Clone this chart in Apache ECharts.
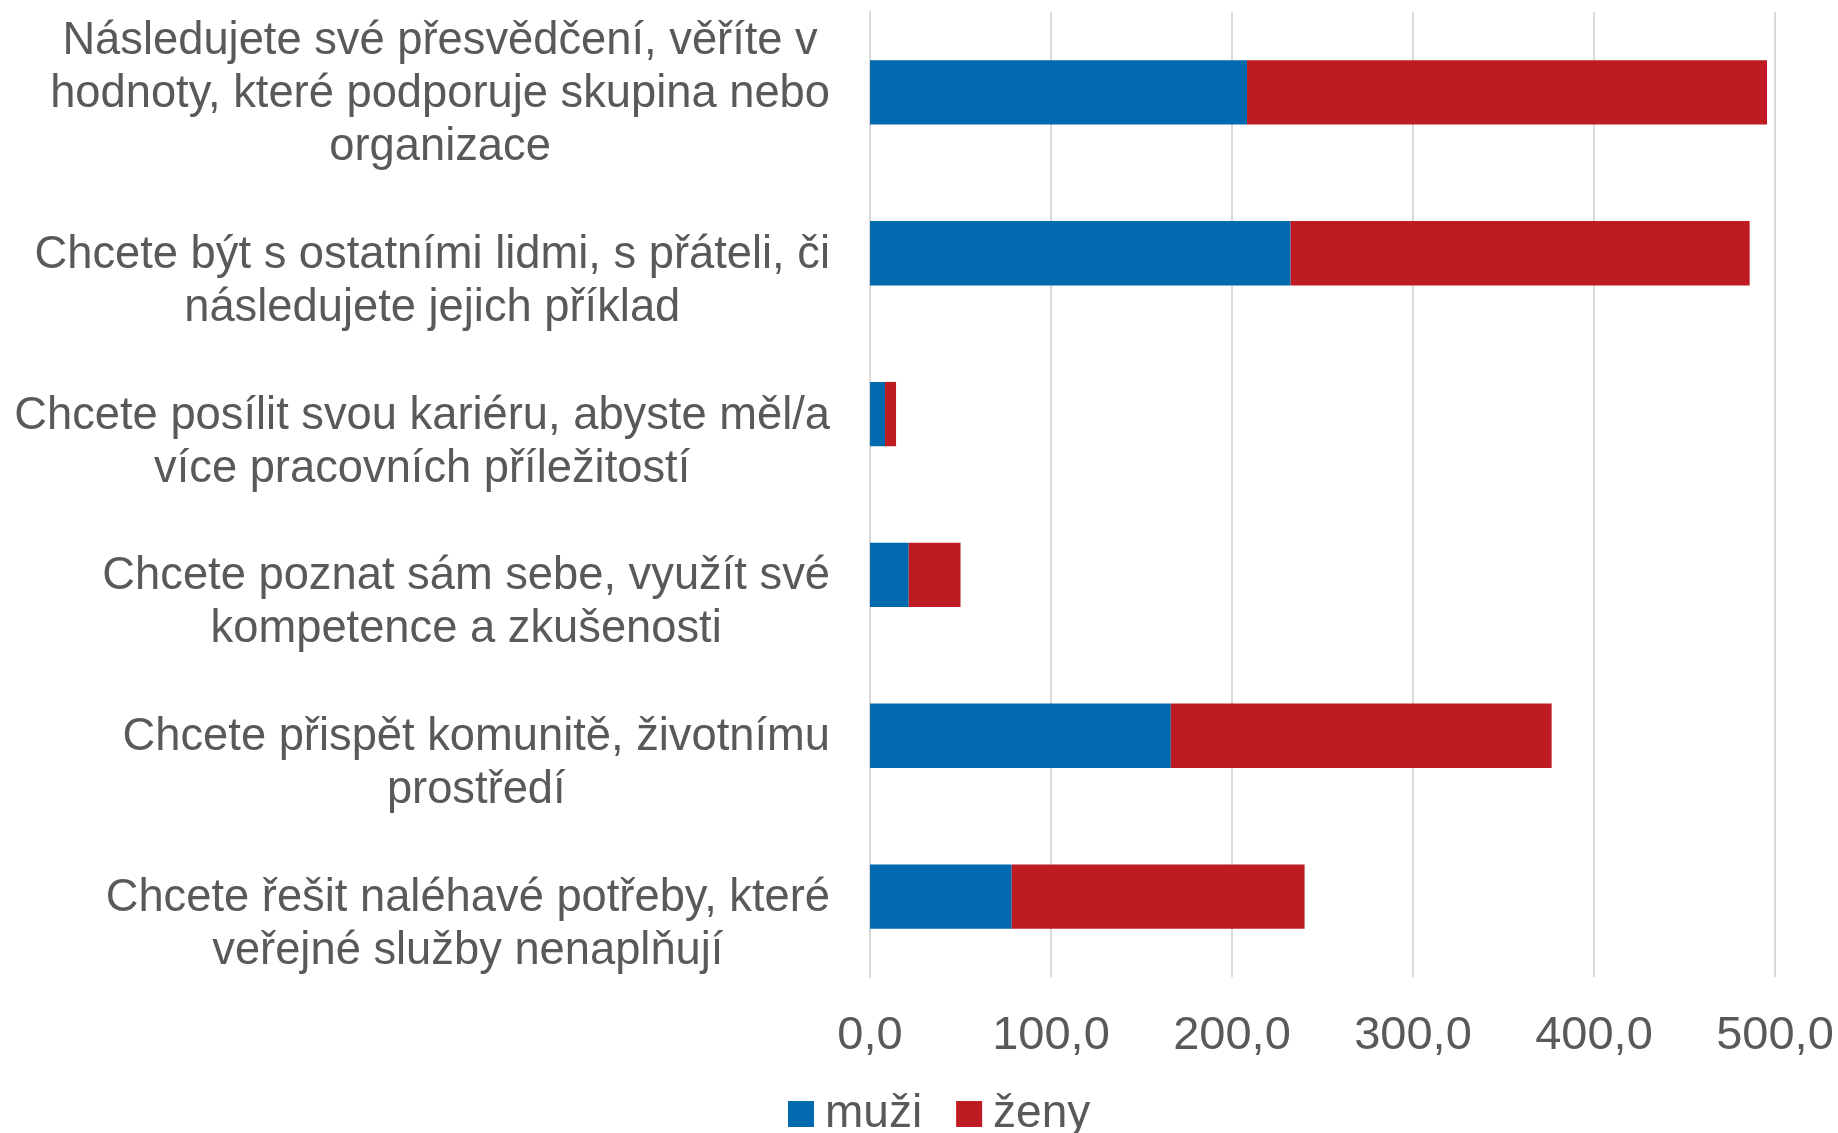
<!DOCTYPE html>
<html><head><meta charset="utf-8">
<script src="https://cdn.jsdelivr.net/npm/echarts@6/dist/echarts.min.js"></script>
<style>html,body{margin:0;padding:0;background:#fff}#c{width:1838px;height:1133px}</style>
</head><body><div id="c"></div>
<script>
const categories = [
  'Následujete své přesvědčení, věříte v\nhodnoty, které podporuje skupina nebo\norganizace',
  'Chcete být s ostatními lidmi, s přáteli, či\nnásledujete jejich příklad',
  'Chcete posílit svou kariéru, abyste měl/a\nvíce pracovních příležitostí',
  'Chcete poznat sám sebe, využít své\nkompetence a zkušenosti',
  'Chcete přispět komunitě, životnímu\nprostředí',
  'Chcete řešit naléhavé potřeby, které\nveřejné služby nenaplňují'
];
const seriesNames = ['muži', 'ženy'];
const muzi = [208.3, 232.4, 8.3, 21.4, 166.2, 78.3];
const zeny = [287.3, 253.6, 6.1, 28.6, 210.4, 161.8];
const xMin = 0, xMax = 500, xStep = 100;

const font = '"Liberation Sans", Arial, sans-serif';
const txt = '#595959';
const chart = echarts.init(document.getElementById('c'));
chart.setOption({
  animation: false,
  grid: {left: 870, right: 63, top: 12, bottom: 156, containLabel: false},
  legend: {
    data: seriesNames, left: 783, top: 1086, icon: 'rect',
    itemWidth: 26, itemHeight: 26, itemGap: 34,
    textStyle: {fontFamily: font, fontSize: 46, color: txt, padding: [0, 0, 0, 6]}
  },
  xAxis: {
    type: 'value', min: xMin, max: xMax, interval: xStep,
    axisLine: {show: false}, axisTick: {show: false},
    splitLine: {show: true, lineStyle: {color: '#d9d9d9', width: 2}},
    axisLabel: {
      fontFamily: font, fontSize: 47, color: txt, margin: 36,
      formatter: v => v.toFixed(1).replace('.', ',')
    }
  },
  yAxis: {
    type: 'category', inverse: true, data: categories,
    axisTick: {show: false},
    axisLine: {show: true, lineStyle: {color: '#d9d9d9', width: 2}},
    axisLabel: {
      interval: 0, hideOverlap: false, showMinLabel: true, showMaxLabel: true,
      margin: 40, fontFamily: font, fontSize: 45.3, color: txt, lineHeight: 53, align: 'right',
      padding: [4, 0, 0, 0],
      formatter: function (v) {
        const lines = v.split('\n');
        while (lines.length < 3) lines.unshift(' ');
        return lines.map(l => '{c|' + l + '}').join('\n');
      },
      rich: {c: {align: 'center', fontFamily: font, fontSize: 45.3, color: txt, lineHeight: 53}}
    }
  },
  series: [
    {name: seriesNames[0], type: 'bar', stack: 'a', data: muzi, barWidth: '40%', itemStyle: {color: '#0169ad'}},
    {name: seriesNames[1], type: 'bar', stack: 'a', data: zeny, barWidth: '40%', itemStyle: {color: '#be1b23'}}
  ]
});
</script></body></html>
